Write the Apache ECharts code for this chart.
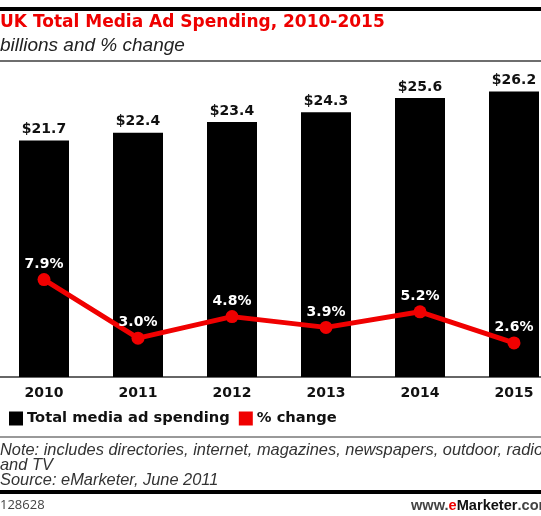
<!DOCTYPE html>
<html>
<head>
<meta charset="utf-8">
<script src="https://cdn.jsdelivr.net/npm/echarts@6/dist/echarts.min.js"></script>
<style>
  html, body { margin: 0; padding: 0; background: #fff; overflow: hidden; }
  body { width: 541px; height: 516px; position: relative; }
  /* plot area runs slightly past both page edges */
  #chart { position: absolute; left: -3px; top: 0; width: 564px; height: 516px; }
</style>
</head>
<body>
<div id="chart"></div>
<script>
// UK total media ad spending, 2010-2015
const years = ['2010', '2011', '2012', '2013', '2014', '2015'];
const spending = [21.7, 22.4, 23.4, 24.3, 25.6, 26.2];   // billions
const pctChange = [7.9, 3.0, 4.8, 3.9, 5.2, 2.6];        // % change

const BOLD = 'DejaVu Sans';
const SANS = 'Liberation Sans';
const X0 = 3; // page left edge inside the chart container

const chart = echarts.init(document.getElementById('chart'), null, { renderer: 'canvas' });

chart.setOption({
  animation: false,
  backgroundColor: '#ffffff',
  title: [
    {
      text: 'UK Total Media Ad Spending, 2010-2015',
      left: X0, top: 14, padding: 0,
      textStyle: { fontFamily: BOLD, fontWeight: 'bold', fontSize: 17, color: '#ee0000' }
    },
    {
      text: 'billions and % change',
      left: X0, top: 36, padding: 0,
      textStyle: { fontFamily: SANS, fontStyle: 'italic', fontWeight: 'normal', fontSize: 19, color: '#222' }
    },
    {
      text: 'Note: includes directories, internet, magazines, newspapers, outdoor, radio\nand TV\nSource: eMarketer, June 2011',
      left: X0, top: 443, padding: 0,
      textStyle: { fontFamily: SANS, fontStyle: 'italic', fontWeight: 'normal', fontSize: 16.4, lineHeight: 15, color: '#333' }
    },
    {
      text: '128628',
      left: X0, top: 499, padding: 0,
      textStyle: { fontFamily: 'Open Sans', fontWeight: 'normal', fontSize: 13, color: '#444' }
    },
    {
      text: '{w|www.}{e|e}{m|Marketer}{w|.com}',
      left: X0 + 411, top: 498, padding: 0,
      textStyle: {
        rich: {
          w: { fontFamily: SANS, fontSize: 14.6, color: '#444' },
          e: { fontFamily: SANS, fontSize: 14.6, fontWeight: 'bold', color: '#ee0000' },
          m: { fontFamily: SANS, fontSize: 14.6, fontWeight: 'bold', color: '#111' }
        }
      }
    }
  ],
  graphic: [
    { type: 'rect', shape: { x: X0, y: 7, width: 541, height: 4 }, style: { fill: '#000' } },
    { type: 'rect', shape: { x: X0, y: 60, width: 541, height: 2 }, style: { fill: '#6e6e6e' } },
    { type: 'rect', shape: { x: X0, y: 436, width: 541, height: 2 }, style: { fill: '#999' } },
    { type: 'rect', shape: { x: X0, y: 490, width: 541, height: 4 }, style: { fill: '#000' } }
  ],
  legend: {
    left: X0 + 9, top: 411, padding: 0,
    itemWidth: 14, itemHeight: 14, itemGap: 9,
    icon: 'rect',
    textStyle: { fontFamily: BOLD, fontWeight: 'bold', fontSize: 14.7, color: '#111', padding: [0, 0, 0, -1] },
    data: ['Total media ad spending', '% change']
  },
  grid: { left: 0, right: 0, top: 50, bottom: 139, containLabel: false },
  xAxis: {
    type: 'category',
    data: years,
    axisTick: { show: false },
    axisLine: { lineStyle: { color: '#666', width: 2 } },
    axisLabel: { fontFamily: BOLD, fontWeight: 'bold', fontSize: 14, color: '#111', margin: 9 }
  },
  yAxis: [
    { type: 'value', min: 0, max: 30, show: false, splitLine: { show: false } },
    { type: 'value', min: -0.25, max: 27.1, show: false, splitLine: { show: false } }
  ],
  series: [
    {
      name: 'Total media ad spending',
      type: 'bar',
      data: spending,
      barWidth: 50,
      itemStyle: { color: '#000' },
      label: {
        show: true, position: 'top', distance: 4,
        fontFamily: BOLD, fontWeight: 'bold', fontSize: 14, color: '#111',
        formatter: p => '$' + p.value.toFixed(1)
      }
    },
    {
      name: '% change',
      type: 'line',
      yAxisIndex: 1,
      data: pctChange,
      symbol: 'circle',
      symbolSize: 13,
      lineStyle: { color: '#f00000', width: 5 },
      itemStyle: { color: '#f00000' },
      label: {
        show: true, position: 'top', distance: 2,
        fontFamily: BOLD, fontWeight: 'bold', fontSize: 14, color: '#fff',
        formatter: p => p.value.toFixed(1) + '%'
      },
      z: 3
    }
  ]
});
</script>
</body>
</html>
